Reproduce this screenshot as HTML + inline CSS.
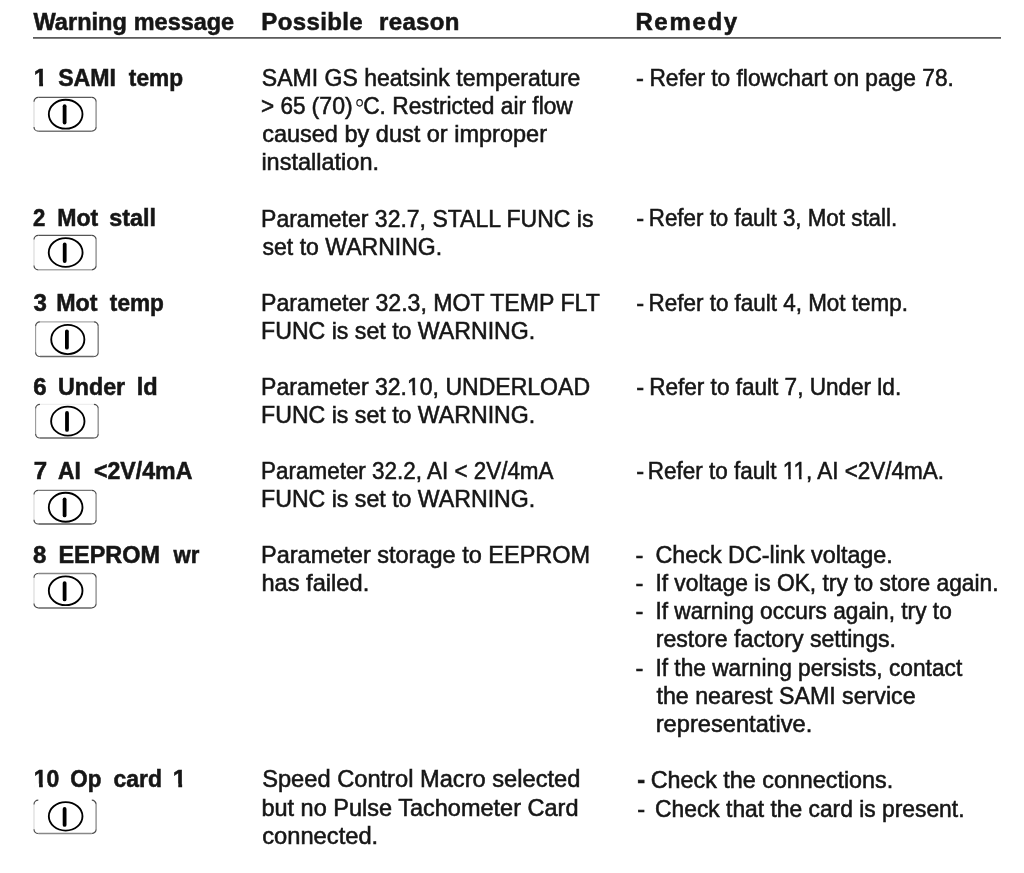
<!DOCTYPE html>
<html><head><meta charset="utf-8"><style>
html,body{margin:0;padding:0;background:#fff;width:1024px;height:873px;overflow:hidden}
svg{display:block;will-change:transform}
text{font-family:"Liberation Sans",sans-serif;fill:#161616;stroke:#161616;stroke-width:0.55px}
</style></head><body>
<svg width="1024" height="873" viewBox="0 0 1024 873">
<rect x="33" y="37.1" width="968" height="1.6" fill="#4a4a4a"/>
<text id="t0" transform="translate(33.47,30.00) scale(0.9829,1)" x="0" y="0" font-size="24.0" font-weight="700" xml:space="preserve">Warning</text>
<text id="t1" transform="translate(133.80,30.00) scale(0.9764,1)" x="0" y="0" font-size="24.0" font-weight="700" xml:space="preserve">message</text>
<text id="t2" x="261.27" y="30.00" font-size="24.0" font-weight="700" letter-spacing="0.392" xml:space="preserve">Possible</text>
<text id="t3" x="378.97" y="30.00" font-size="24.0" font-weight="700" letter-spacing="0.361" xml:space="preserve">reason</text>
<text id="t4" x="635.38" y="30.00" font-size="24.0" font-weight="700" letter-spacing="1.665" xml:space="preserve">Remedy</text>
<text id="t5" x="33.67" y="86.00" font-size="24.0" font-weight="700" xml:space="preserve">1</text>
<text id="t6" transform="translate(58.20,86.00) scale(0.9633,1)" x="0" y="0" font-size="24.0" font-weight="700" xml:space="preserve">SAMI</text>
<text id="t7" transform="translate(128.86,86.00) scale(0.9456,1)" x="0" y="0" font-size="24.0" font-weight="700" xml:space="preserve">temp</text>
<text id="t8" transform="translate(33.06,226.00) scale(0.9243,1)" x="0" y="0" font-size="24.0" font-weight="700" xml:space="preserve">2</text>
<text id="t9" transform="translate(57.22,226.00) scale(0.9621,1)" x="0" y="0" font-size="24.0" font-weight="700" xml:space="preserve">Mot</text>
<text id="t10" transform="translate(109.34,226.00) scale(0.9719,1)" x="0" y="0" font-size="24.0" font-weight="700" xml:space="preserve">stall</text>
<text id="t11" x="33.60" y="311.00" font-size="24.0" font-weight="700" xml:space="preserve">3</text>
<text id="t12" transform="translate(56.21,311.00) scale(0.9693,1)" x="0" y="0" font-size="24.0" font-weight="700" xml:space="preserve">Mot</text>
<text id="t13" transform="translate(109.86,311.00) scale(0.9421,1)" x="0" y="0" font-size="24.0" font-weight="700" xml:space="preserve">temp</text>
<text id="t14" x="33.23" y="395.00" font-size="24.0" font-weight="700" xml:space="preserve">6</text>
<text id="t15" transform="translate(57.98,395.00) scale(0.9689,1)" x="0" y="0" font-size="24.0" font-weight="700" xml:space="preserve">Under</text>
<text id="t16" transform="translate(136.80,395.00) scale(0.9818,1)" x="0" y="0" font-size="24.0" font-weight="700" xml:space="preserve">ld</text>
<text id="t17" x="33.82" y="479.00" font-size="24.0" font-weight="700" xml:space="preserve">7</text>
<text id="t18" transform="translate(58.11,479.00) scale(0.9492,1)" x="0" y="0" font-size="24.0" font-weight="700" xml:space="preserve">AI</text>
<text id="t19" transform="translate(93.94,479.00) scale(0.9655,1)" x="0" y="0" font-size="24.0" font-weight="700" xml:space="preserve">&lt;2V/4mA</text>
<text id="t20" x="33.12" y="563.00" font-size="24.0" font-weight="700" xml:space="preserve">8</text>
<text id="t21" transform="translate(58.40,563.00) scale(0.9762,1)" x="0" y="0" font-size="24.0" font-weight="700" xml:space="preserve">EEPROM</text>
<text id="t22" transform="translate(173.60,563.00) scale(0.9233,1)" x="0" y="0" font-size="24.0" font-weight="700" xml:space="preserve">wr</text>
<text id="t23" transform="translate(33.83,787.00) scale(0.9567,1)" x="0" y="0" font-size="24.0" font-weight="700" xml:space="preserve">10</text>
<text id="t24" transform="translate(70.36,787.00) scale(0.9337,1)" x="0" y="0" font-size="24.0" font-weight="700" xml:space="preserve">Op</text>
<text id="t25" transform="translate(113.55,787.00) scale(0.9559,1)" x="0" y="0" font-size="24.0" font-weight="700" xml:space="preserve">card</text>
<text id="t26" x="172.78" y="787.00" font-size="24.0" font-weight="700" xml:space="preserve">1</text>
<text id="t27" transform="translate(261.85,86.00) scale(0.9761,1)" x="0" y="0" font-size="23.6" xml:space="preserve">SAMI GS heatsink temperature</text>
<text id="t28" transform="translate(261.11,114.00) scale(0.9539,1)" x="0" y="0" font-size="23.6" xml:space="preserve">&gt; 65</text>
<text id="t29" transform="translate(311.59,114.00) scale(0.9791,1)" x="0" y="0" font-size="23.6" xml:space="preserve">(70)</text>
<text id="t30" transform="translate(363.20,114.00) scale(0.9631,1)" x="0" y="0" font-size="23.6" xml:space="preserve">C. Restricted air flow</text>
<text id="t31" transform="translate(262.14,142.00) scale(0.9966,1)" x="0" y="0" font-size="23.6" xml:space="preserve">caused by dust or improper</text>
<text id="t32" transform="translate(261.40,170.00) scale(0.9964,1)" x="0" y="0" font-size="23.6" xml:space="preserve">installation.</text>
<text id="t33" transform="translate(261.07,227.00) scale(0.9751,1)" x="0" y="0" font-size="23.6" xml:space="preserve">Parameter 32.7, STALL FUNC is</text>
<text id="t34" transform="translate(262.51,255.00) scale(0.9766,1)" x="0" y="0" font-size="23.6" xml:space="preserve">set to WARNING.</text>
<text id="t35" transform="translate(261.06,311.00) scale(0.9798,1)" x="0" y="0" font-size="23.6" xml:space="preserve">Parameter 32.3, MOT TEMP FLT</text>
<text id="t36" transform="translate(261.06,339.00) scale(0.9808,1)" x="0" y="0" font-size="23.6" xml:space="preserve">FUNC is set to WARNING.</text>
<text id="t37" transform="translate(261.07,395.00) scale(0.9762,1)" x="0" y="0" font-size="23.6" xml:space="preserve">Parameter 32.10, UNDERLOAD</text>
<text id="t38" transform="translate(261.06,423.00) scale(0.9808,1)" x="0" y="0" font-size="23.6" xml:space="preserve">FUNC is set to WARNING.</text>
<text id="t39" transform="translate(261.11,479.00) scale(0.9511,1)" x="0" y="0" font-size="23.6" xml:space="preserve">Parameter 32.2, AI &lt; 2V/4mA</text>
<text id="t40" transform="translate(261.06,507.00) scale(0.9808,1)" x="0" y="0" font-size="23.6" xml:space="preserve">FUNC is set to WARNING.</text>
<text id="t41" transform="translate(261.04,563.00) scale(0.9959,1)" x="0" y="0" font-size="23.6" xml:space="preserve">Parameter storage to EEPROM</text>
<text id="t42" transform="translate(261.40,591.00) scale(1.0026,1)" x="0" y="0" font-size="23.6" xml:space="preserve">has failed.</text>
<text id="t43" transform="translate(262.14,787.00) scale(1.0030,1)" x="0" y="0" font-size="23.6" xml:space="preserve">Speed Control Macro selected</text>
<text id="t44" transform="translate(261.40,816.00) scale(0.9965,1)" x="0" y="0" font-size="23.6" xml:space="preserve">but no Pulse Tachometer Card</text>
<text id="t45" transform="translate(262.13,844.00) scale(1.0058,1)" x="0" y="0" font-size="23.6" xml:space="preserve">connected.</text>
<text id="t46" x="635.94" y="86.00" font-size="23.6" xml:space="preserve">-</text>
<text id="t47" transform="translate(649.39,86.00) scale(0.9637,1)" x="0" y="0" font-size="23.6" xml:space="preserve">Refer to flowchart on page 78.</text>
<text id="t48" x="636.34" y="226.00" font-size="23.6" xml:space="preserve">-</text>
<text id="t49" transform="translate(648.81,226.00) scale(0.9475,1)" x="0" y="0" font-size="23.6" xml:space="preserve">Refer to fault 3, Mot stall.</text>
<text id="t50" x="636.34" y="311.00" font-size="23.6" xml:space="preserve">-</text>
<text id="t51" transform="translate(648.61,311.00) scale(0.9506,1)" x="0" y="0" font-size="23.6" xml:space="preserve">Refer to fault 4, Mot temp.</text>
<text id="t52" x="636.34" y="395.00" font-size="23.6" xml:space="preserve">-</text>
<text id="t53" transform="translate(649.20,395.00) scale(0.9560,1)" x="0" y="0" font-size="23.6" xml:space="preserve">Refer to fault 7, Under ld.</text>
<text id="t54" x="636.34" y="479.00" font-size="23.6" xml:space="preserve">-</text>
<text id="t55" transform="translate(647.81,479.00) scale(0.9528,1)" x="0" y="0" font-size="23.6" xml:space="preserve">Refer to fault 11, AI &lt;2V/4mA.</text>
<text id="t56" x="635.54" y="563.00" font-size="23.6" xml:space="preserve">-</text>
<text id="t57" transform="translate(655.38,563.00) scale(0.9897,1)" x="0" y="0" font-size="23.6" xml:space="preserve">Check DC-link voltage.</text>
<text id="t58" x="635.54" y="591.00" font-size="23.6" xml:space="preserve">-</text>
<text id="t59" transform="translate(655.38,591.00) scale(0.9661,1)" x="0" y="0" font-size="23.6" xml:space="preserve">If voltage is OK, try to store again.</text>
<text id="t60" x="635.54" y="619.00" font-size="23.6" xml:space="preserve">-</text>
<text id="t61" transform="translate(655.39,619.00) scale(0.9621,1)" x="0" y="0" font-size="23.6" xml:space="preserve">If warning occurs again, try to</text>
<text id="t62" transform="translate(655.72,647.00) scale(0.9797,1)" x="0" y="0" font-size="23.6" xml:space="preserve">restore factory settings.</text>
<text id="t63" x="635.54" y="676.00" font-size="23.6" xml:space="preserve">-</text>
<text id="t64" transform="translate(655.39,676.00) scale(0.9630,1)" x="0" y="0" font-size="23.6" xml:space="preserve">If the warning persists, contact</text>
<text id="t65" transform="translate(656.47,704.00) scale(0.9835,1)" x="0" y="0" font-size="23.6" xml:space="preserve">the nearest SAMI service</text>
<text id="t66" transform="translate(655.70,732.00) scale(1.0029,1)" x="0" y="0" font-size="23.6" xml:space="preserve">representative.</text>
<text id="t67" x="637.14" y="788.00" font-size="23.6" font-weight="700" xml:space="preserve">-</text>
<text id="t68" transform="translate(650.78,788.00) scale(0.9883,1)" x="0" y="0" font-size="23.6" xml:space="preserve">Check the connections.</text>
<text id="t69" x="637.14" y="817.00" font-size="23.6" xml:space="preserve">-</text>
<text id="t70" transform="translate(655.10,817.00) scale(0.9670,1)" x="0" y="0" font-size="23.6" xml:space="preserve">Check that the card is present.</text>
<ellipse cx="359.6" cy="102.8" rx="2.75" ry="3.25" fill="none" stroke="#161616" stroke-width="1.15"/>
<rect x="34.17" y="82.60" width="5.01" height="4.60" fill="#fff"/>
<rect x="43.04" y="82.60" width="4.69" height="4.60" fill="#fff"/>
<rect x="34.26" y="783.60" width="4.83" height="4.60" fill="#fff"/>
<rect x="42.81" y="783.60" width="4.53" height="4.60" fill="#fff"/>
<rect x="173.28" y="783.60" width="5.00" height="4.60" fill="#fff"/>
<rect x="182.15" y="783.60" width="4.69" height="4.60" fill="#fff"/>
<rect x="407.72" y="392.35" width="4.96" height="3.85" fill="#fff"/>
<rect x="415.28" y="392.35" width="4.75" height="3.85" fill="#fff"/>
<rect x="783.37" y="476.35" width="4.86" height="3.85" fill="#fff"/>
<rect x="790.78" y="476.35" width="4.66" height="3.85" fill="#fff"/>
<rect x="794.19" y="476.35" width="4.86" height="3.85" fill="#fff"/>
<rect x="801.60" y="476.35" width="4.66" height="3.85" fill="#fff"/>
<path d="M38.30,97.40 L91.80,97.40" stroke="#5a5a5a" stroke-width="1.3" fill="none"/>
<path d="M96.10,101.70 L96.10,126.90" stroke="#999" stroke-width="1.5" fill="none"/>
<path d="M91.80,131.20 L38.30,131.20" stroke="#777" stroke-width="1.5" fill="none"/>
<path d="M34.00,126.90 L34.00,101.70" stroke="#d8d8d8" stroke-width="1.1" fill="none"/>
<path d="M34.00,101.70 A4.3,4.3 0 0 1 38.30,97.40 M91.80,97.40 A4.3,4.3 0 0 1 96.10,101.70 M96.10,126.90 A4.3,4.3 0 0 1 91.80,131.20 M38.30,131.20 A4.3,4.3 0 0 1 34.00,126.90" stroke="#4a4a4a" stroke-width="1.2" fill="none"/>
<ellipse cx="65.65" cy="114.20" rx="16.83" ry="14.47" fill="none" stroke="#000" stroke-width="1.85"/>
<line x1="64.60" y1="106.20" x2="64.60" y2="122.60" stroke="#000" stroke-width="3.8" stroke-linecap="round"/>
<path d="M38.30,235.30 L91.80,235.30" stroke="#555" stroke-width="1.3" fill="none"/>
<path d="M96.10,239.60 L96.10,265.50" stroke="#999" stroke-width="1.5" fill="none"/>
<path d="M91.80,269.80 L38.30,269.80" stroke="#aaa" stroke-width="1.5" fill="none"/>
<path d="M34.00,265.50 L34.00,239.60" stroke="#d8d8d8" stroke-width="1.1" fill="none"/>
<path d="M34.00,239.60 A4.3,4.3 0 0 1 38.30,235.30 M91.80,235.30 A4.3,4.3 0 0 1 96.10,239.60 M96.10,265.50 A4.3,4.3 0 0 1 91.80,269.80 M38.30,269.80 A4.3,4.3 0 0 1 34.00,265.50" stroke="#4a4a4a" stroke-width="1.2" fill="none"/>
<ellipse cx="65.66" cy="252.47" rx="16.91" ry="14.41" fill="none" stroke="#000" stroke-width="1.85"/>
<line x1="64.70" y1="244.50" x2="64.70" y2="261.10" stroke="#000" stroke-width="3.8" stroke-linecap="round"/>
<path d="M39.90,321.90 L93.90,321.90" stroke="#aaa" stroke-width="1.3" fill="none"/>
<path d="M98.20,326.20 L98.20,352.20" stroke="#888" stroke-width="1.5" fill="none"/>
<path d="M93.90,356.50 L39.90,356.50" stroke="#666" stroke-width="1.5" fill="none"/>
<path d="M35.60,352.20 L35.60,326.20" stroke="#999" stroke-width="1.1" fill="none"/>
<path d="M35.60,326.20 A4.3,4.3 0 0 1 39.90,321.90 M93.90,321.90 A4.3,4.3 0 0 1 98.20,326.20 M98.20,352.20 A4.3,4.3 0 0 1 93.90,356.50 M39.90,356.50 A4.3,4.3 0 0 1 35.60,352.20" stroke="#4a4a4a" stroke-width="1.2" fill="none"/>
<ellipse cx="67.80" cy="339.45" rx="16.57" ry="14.63" fill="none" stroke="#000" stroke-width="1.85"/>
<line x1="66.90" y1="331.30" x2="66.90" y2="347.70" stroke="#000" stroke-width="3.8" stroke-linecap="round"/>
<path d="M39.90,404.30 L93.90,404.30" stroke="#eee" stroke-width="1.3" fill="none"/>
<path d="M98.20,408.60 L98.20,433.70" stroke="#999" stroke-width="1.5" fill="none"/>
<path d="M93.90,438.00 L39.90,438.00" stroke="#666" stroke-width="1.5" fill="none"/>
<path d="M35.60,433.70 L35.60,408.60" stroke="#999" stroke-width="1.1" fill="none"/>
<path d="M35.60,408.60 A4.3,4.3 0 0 1 39.90,404.30 M93.90,404.30 A4.3,4.3 0 0 1 98.20,408.60 M98.20,433.70 A4.3,4.3 0 0 1 93.90,438.00 M39.90,438.00 A4.3,4.3 0 0 1 35.60,433.70" stroke="#4a4a4a" stroke-width="1.2" fill="none"/>
<ellipse cx="67.80" cy="421.15" rx="16.68" ry="14.53" fill="none" stroke="#000" stroke-width="1.85"/>
<line x1="67.00" y1="412.90" x2="67.00" y2="429.90" stroke="#000" stroke-width="3.8" stroke-linecap="round"/>
<path d="M38.30,490.30 L91.80,490.30" stroke="#777" stroke-width="1.3" fill="none"/>
<path d="M96.10,494.60 L96.10,519.70" stroke="#999" stroke-width="1.5" fill="none"/>
<path d="M91.80,524.00 L38.30,524.00" stroke="#555" stroke-width="1.5" fill="none"/>
<path d="M34.00,519.70 L34.00,494.60" stroke="#d8d8d8" stroke-width="1.1" fill="none"/>
<path d="M34.00,494.60 A4.3,4.3 0 0 1 38.30,490.30 M91.80,490.30 A4.3,4.3 0 0 1 96.10,494.60 M96.10,519.70 A4.3,4.3 0 0 1 91.80,524.00 M38.30,524.00 A4.3,4.3 0 0 1 34.00,519.70" stroke="#4a4a4a" stroke-width="1.2" fill="none"/>
<ellipse cx="65.65" cy="507.25" rx="16.83" ry="14.53" fill="none" stroke="#000" stroke-width="1.85"/>
<line x1="64.60" y1="499.30" x2="64.60" y2="515.40" stroke="#000" stroke-width="3.8" stroke-linecap="round"/>
<path d="M38.30,573.50 L91.80,573.50" stroke="#888" stroke-width="1.3" fill="none"/>
<path d="M96.10,577.80 L96.10,603.60" stroke="#999" stroke-width="1.5" fill="none"/>
<path d="M91.80,607.90 L38.30,607.90" stroke="#666" stroke-width="1.5" fill="none"/>
<path d="M34.00,603.60 L34.00,577.80" stroke="#d8d8d8" stroke-width="1.1" fill="none"/>
<path d="M34.00,577.80 A4.3,4.3 0 0 1 38.30,573.50 M91.80,573.50 A4.3,4.3 0 0 1 96.10,577.80 M96.10,603.60 A4.3,4.3 0 0 1 91.80,607.90 M38.30,607.90 A4.3,4.3 0 0 1 34.00,603.60" stroke="#4a4a4a" stroke-width="1.2" fill="none"/>
<ellipse cx="65.65" cy="590.75" rx="16.83" ry="14.43" fill="none" stroke="#000" stroke-width="1.85"/>
<line x1="64.60" y1="583.10" x2="64.60" y2="599.40" stroke="#000" stroke-width="3.8" stroke-linecap="round"/>
<path d="M38.30,800.20 L91.80,800.20" stroke="#fff" stroke-width="1.3" fill="none"/>
<path d="M96.10,804.50 L96.10,829.20" stroke="#999" stroke-width="1.5" fill="none"/>
<path d="M91.80,833.50 L38.30,833.50" stroke="#888" stroke-width="1.5" fill="none"/>
<path d="M34.00,829.20 L34.00,804.50" stroke="#d8d8d8" stroke-width="1.1" fill="none"/>
<path d="M34.00,804.50 A4.3,4.3 0 0 1 38.30,800.20 M91.80,800.20 A4.3,4.3 0 0 1 96.10,804.50 M96.10,829.20 A4.3,4.3 0 0 1 91.80,833.50 M38.30,833.50 A4.3,4.3 0 0 1 34.00,829.20" stroke="#4a4a4a" stroke-width="1.2" fill="none"/>
<ellipse cx="65.65" cy="816.35" rx="16.83" ry="14.22" fill="none" stroke="#000" stroke-width="1.85"/>
<line x1="64.60" y1="808.90" x2="64.60" y2="824.90" stroke="#000" stroke-width="3.8" stroke-linecap="round"/>
</svg>
</body></html>
